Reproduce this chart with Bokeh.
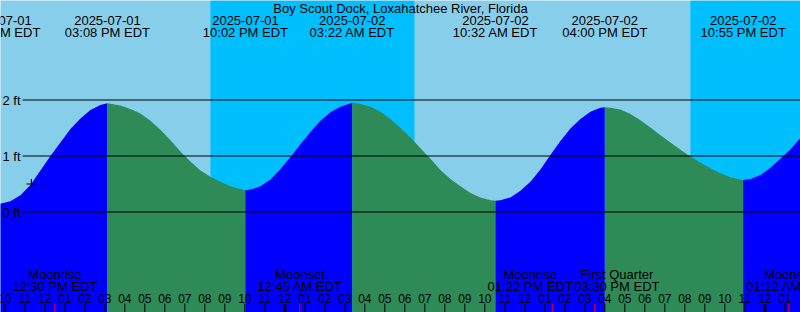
from bokeh.plotting import figure
from bokeh.models import Range1d
from bokeh.embed import file_html
from bokeh.resources import INLINE
from bokeh.core.properties import value

# ---------------- data ----------------
chart_title = "Boy Scout Dock, Loxahatchee River, Florida"

# tide curve: hours since 2025-07-01 00:00 EDT, level in ft
curve_hours = [9.68, 10.28, 10.78, 11.28, 11.78, 12.28, 12.78, 13.28, 13.78, 14.28, 14.78, 15.13,
               15.78, 16.28, 16.78, 17.28, 17.78, 18.28, 18.78, 19.28, 19.78, 20.28, 20.78, 21.28, 21.78, 22.03,
               22.28, 22.78, 23.28, 23.78, 24.28, 24.78, 25.28, 25.78, 26.28, 26.78, 27.37,
               27.78, 28.28, 28.78, 29.28, 29.78, 30.28, 30.78, 31.28, 31.78, 32.28, 32.78, 33.28, 33.78, 34.28, 34.53,
               34.78, 35.28, 35.78, 36.28, 36.78, 37.28, 37.78, 38.28, 38.78, 39.28, 39.78, 40.00,
               40.28, 40.78, 41.28, 41.78, 42.28, 42.78, 43.28, 43.78, 44.28, 44.78, 45.28, 45.78, 46.28, 46.78, 46.92,
               47.28, 47.78, 48.28, 48.78, 49.28, 49.78]
curve_ft = [0.14, 0.19, 0.30, 0.48, 0.74, 1.00, 1.24, 1.48, 1.67, 1.82, 1.91, 1.94,
            1.90, 1.84, 1.76, 1.63, 1.47, 1.28, 1.08, 0.90, 0.74, 0.63, 0.54, 0.46, 0.41, 0.39,
            0.40, 0.46, 0.58, 0.77, 0.98, 1.21, 1.43, 1.63, 1.78, 1.88, 1.95,
            1.93, 1.88, 1.79, 1.66, 1.50, 1.33, 1.14, 0.95, 0.75, 0.59, 0.46, 0.34, 0.26, 0.21, 0.20,
            0.21, 0.26, 0.38, 0.54, 0.76, 1.02, 1.27, 1.49, 1.66, 1.79, 1.86, 1.87,
            1.86, 1.83, 1.75, 1.64, 1.51, 1.37, 1.24, 1.11, 0.99, 0.88, 0.78, 0.69, 0.62, 0.58, 0.57,
            0.59, 0.66, 0.79, 0.95, 1.12, 1.32]

# high / low tide events
event_hours = [9.68, 15.13, 22.03, 27.37, 34.53, 40.00, 46.92]
event_kinds = ["low", "high", "low", "high", "low", "high", "low"]
event_dates = ["2025-07-01", "2025-07-01", "2025-07-01", "2025-07-02", "2025-07-02", "2025-07-02", "2025-07-02"]
event_times = ["09:41 AM EDT", "03:08 PM EDT", "10:02 PM EDT", "03:22 AM EDT",
               "10:32 AM EDT", "04:00 PM EDT", "10:55 PM EDT"]

# night intervals (sunset -> sunrise)
night_start = [20.28, 44.28]
night_end = [30.48, 50.00]

# moon events
moon_hours = [12.50, 24.75, 37.37, 39.50, 49.20]
moon_names = ["Moonrise", "Moonset", "Moonrise", "First Quarter", "Moonset"]
moon_times = ["12:30 PM EDT", "12:45 AM EDT", "01:22 PM EDT", "03:30 PM EDT", "01:12 AM EDT"]

level_values = [0, 1, 2]
level_labels = ["0 ft", "1 ft", "2 ft"]

now_hour = 11.33
now_ft = 0.50

# ---------------- layout ----------------
W, H = 800, 312
PX_PER_HOUR = 20.0
PX_PER_FT = 56.0
X0 = 9.7833
Y_ZERO_PX = 211.5
y_top = Y_ZERO_PX / PX_PER_FT
y_bot = -(H - Y_ZERO_PX) / PX_PER_FT


def fy(py):
    return (Y_ZERO_PX - py) / PX_PER_FT


def hx(px):
    return X0 + px / PX_PER_HOUR


DAY = "#87CEEB"
NIGHT = "#00BFFF"
FLOOD = "#0000FF"
EBB = "#2E8B57"
FONT = value("Liberation Sans")

p = figure(width=W, height=H, output_backend="svg", toolbar_location=None,
           x_range=Range1d(X0, X0 + W / PX_PER_HOUR), y_range=Range1d(y_bot, y_top),
           x_axis_location=None, y_axis_location=None, min_border=0)
p.grid.visible = False
p.outline_line_color = None
p.background_fill_color = DAY
p.border_fill_color = DAY

# night
p.quad(left=night_start, right=night_end, bottom=y_bot, top=y_top, fill_color=NIGHT, line_color=None)

# water fill, rising blue / falling green
bounds = event_hours + [curve_hours[-1] + 1]
for i in range(len(event_hours)):
    a, b = bounds[i], bounds[i + 1]
    xs = [h for h in curve_hours if a - 1e-9 <= h <= b + 1e-9]
    ys = [curve_ft[curve_hours.index(h)] for h in xs]
    col = FLOOD if event_kinds[i] == "low" else EBB
    p.varea(x=xs, y1=[y_bot] * len(xs), y2=ys, fill_color=col)

# level lines and labels
p.segment(x0=[hx(22)] * len(level_values), x1=[hx(W)] * len(level_values),
          y0=level_values, y1=level_values, line_color="black", line_width=1)
p.text(x=[hx(2)] * len(level_values), y=level_values, text=level_labels,
       text_align="left", text_baseline="middle", text_font=FONT, text_font_size="13px",
       text_color="black")

# title
p.text(x=[hx(W / 2)], y=[fy(7.5)], text=[chart_title], text_align="center", text_baseline="middle",
       text_font=FONT, text_font_size="13px", text_color="black")

# event labels
p.text(x=event_hours, y=[fy(19.5)] * len(event_hours), text=event_dates, text_align="center",
       text_baseline="middle", text_font=FONT, text_font_size="13px", text_color="black")
p.text(x=event_hours, y=[fy(31.5)] * len(event_hours), text=event_times, text_align="center",
       text_baseline="middle", text_font=FONT, text_font_size="13px", text_color="black")

# moon labels (the two close labels are pushed apart to avoid overlap)
moon_dx = [0, 0, -22, 22, 0]
p.text(x=moon_hours, y=[fy(273.5)] * len(moon_hours), text=moon_names, x_offset=moon_dx,
       text_align="center", text_baseline="middle", text_font=FONT, text_font_size="13px",
       text_color="black")
p.text(x=moon_hours, y=[fy(285.5)] * len(moon_hours), text=moon_times, x_offset=moon_dx,
       text_align="center", text_baseline="middle", text_font=FONT, text_font_size="13px",
       text_color="black")

# hour ticks and labels
hours = list(range(10, 50))
hour_labels = ["%02d" % ((h % 12) or 12) for h in hours]
p.text(x=hours, y=[fy(297.5)] * len(hours), text=hour_labels, text_align="center",
       text_baseline="middle", text_font=FONT, text_font_size="12px", text_color="black")
reg = [h for h in hours if h % 24 != 0]
mid = [h for h in hours if h % 24 == 0]
p.segment(x0=reg, x1=reg, y0=[fy(303)] * len(reg), y1=[fy(312)] * len(reg),
          line_color="black", line_width=1)
p.segment(x0=mid, x1=mid, y0=[fy(304)] * len(mid), y1=[fy(312)] * len(mid),
          line_color="black", line_width=3)
p.segment(x0=moon_hours, x1=moon_hours, y0=[fy(303)] * len(moon_hours), y1=[fy(312)] * len(moon_hours),
          line_color="red", line_width=1)

# current-time mark
p.scatter(x=[now_hour], y=[now_ft], marker="cross", size=10, line_color="black", line_width=1.2)

open("out.html", "w").write(file_html(p, INLINE))
